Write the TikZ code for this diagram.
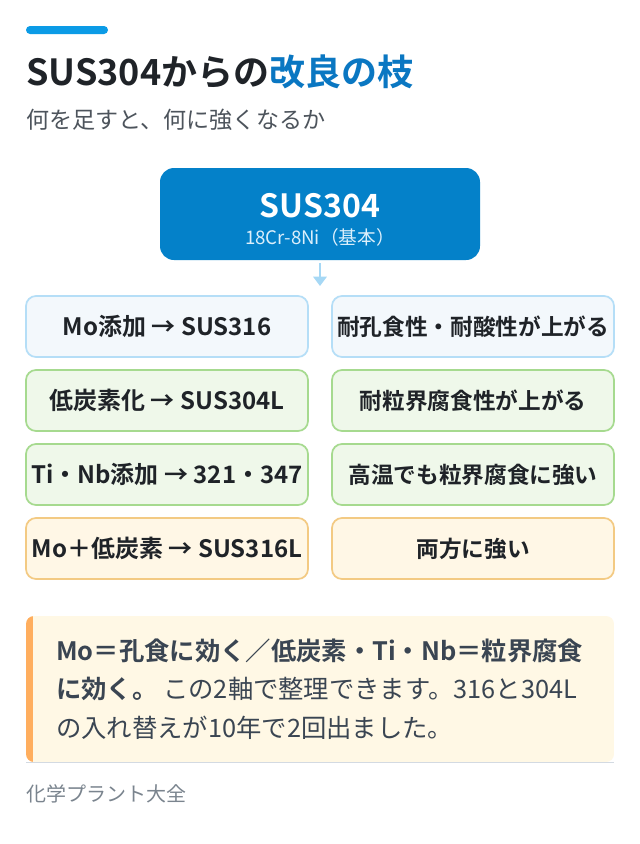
\documentclass[tikz,border=0pt]{standalone}
\usepackage{fontspec}
\setmainfont{Noto Sans CJK JP}[BoldFont={Noto Sans CJK JP Bold}]
\usetikzlibrary{arrows.meta,positioning}

\definecolor{accent}{HTML}{0B9BE6}
\definecolor{ink}{HTML}{1F2328}
\definecolor{titleblue}{HTML}{0A77C2}
\definecolor{subgrey}{HTML}{4D545C}
\definecolor{rootfill}{HTML}{0481C9}
\definecolor{rootsub}{HTML}{DCEFFB}
\definecolor{flowblue}{HTML}{A6D8F5}
\definecolor{bluefill}{HTML}{F3F8FC}
\definecolor{blueline}{HTML}{B5DEF7}
\definecolor{greenfill}{HTML}{EFF8EA}
\definecolor{greenline}{HTML}{A6DA8F}
\definecolor{orangefill}{HTML}{FFF7E6}
\definecolor{orangeline}{HTML}{F3CA83}
\definecolor{notebg}{HTML}{FFF8E5}
\definecolor{notebar}{HTML}{FFAE5E}
\definecolor{noteink}{HTML}{3A4552}
\definecolor{noteline}{HTML}{D3DAE2}
\definecolor{footgrey}{HTML}{7A848E}

\tikzset{
  rootbox/.style={fill=rootfill, rounded corners=10.5pt, minimum width=240pt, minimum height=69pt},
  cell/.style={draw, rounded corners=7.5pt, line width=1.3pt, minimum width=211.5pt,
    minimum height=45.75pt, inner sep=0pt, text=ink, font=\fontsize{17}{20}\selectfont\bfseries},
  grade/.style={font=\fontsize{18}{20}\selectfont\bfseries},
  rowblue/.style={fill=bluefill, draw=blueline},
  rowgreen/.style={fill=greenfill, draw=greenline},
  roworange/.style={fill=orangefill, draw=orangeline},
  flow/.style={draw=flowblue, line width=1.6pt, -{Triangle[width=10pt,length=7pt]}},
  notetext/.style={anchor=base west, inner sep=0pt, text=noteink, font=\fontsize{19}{22}\selectfont},
}

\begin{document}
\begin{tikzpicture}[x=0.75pt, y=-0.75pt, node distance=8.45pt and 16.7pt]
  \useasboundingbox[fill=white] (0,0) rectangle (640,844);
  % accent bar and heading:
  \fill[accent, rounded corners=3pt] (26,26) rectangle (108,34);
  \node[anchor=base west, inner sep=0pt, text=ink, font=\fontsize{27}{30}\selectfont\bfseries]
    (title) at (26,85) {SUS304からの\textcolor{titleblue}{改良の枝}};
  \node[anchor=base west, inner sep=0pt, text=subgrey, font=\fontsize{17.3}{20}\selectfont]
    (subtitle) at (26,128) {何を足すと、何に強くなるか};
  % base grade:
  \node[rootbox] (sus) at (320,214) {};
  \node[anchor=base, inner sep=0pt, text=white, font=\fontsize{24}{28}\selectfont\bfseries]
    (susname) at (320,217) {SUS304};
  \node[anchor=base, inner sep=0pt, text=rootsub, font=\fontsize{14}{16}\selectfont]
    (suscomp) at (320,244) {18Cr-8Ni（基本）};
  \coordinate (branch) at (320,286);
  \draw[flow] ([yshift=-2.25pt]sus.south) -- (branch);
  % modification -> effect:
  \node[cell, grade, rowblue] (mo) at (167,326.5) {Mo添加 → SUS316};
  \node[cell, rowblue, right=of mo] (moeff) {耐孔食性・耐酸性が上がる};
  \node[cell, grade, rowgreen, below=of mo] (lc) {低炭素化 → SUS304L};
  \node[cell, rowgreen, right=of lc] (lceff) {耐粒界腐食性が上がる};
  \node[cell, grade, rowgreen, below=of lc] (tinb) {Ti・Nb添加 → 321・347};
  \node[cell, rowgreen, right=of tinb] (tinbeff) {高温でも粒界腐食に強い};
  \node[cell, grade, roworange, below=of tinb] (molc) {Mo＋低炭素 → SUS316L};
  \node[cell, roworange, right=of molc] (molceff) {両方に強い};
  % note box:
  \begin{scope}
    \clip[rounded corners=6pt] (26,616) rectangle (614,762);
    \fill[notebg] (26,616) rectangle (614,762);
    \fill[notebar] (26,616) rectangle (32.5,762);
  \end{scope}
  \draw[noteline, line width=0.9pt] (26,762.5) -- (614,762.5);
  \node[notetext] (note1) at (56,660) {\textbf{Mo＝孔食に効く／低炭素・Ti・Nb＝粒界腐食}};
  \node[notetext] (note2) at (56,698.5) {\textbf{に効く。} この2軸で整理できます。316と304L};
  \node[notetext] (note3) at (56,737) {の入れ替えが10年で2回出ました。};
  % source:
  \node[anchor=base west, inner sep=0pt, text=footgrey, font=\fontsize{15}{18}\selectfont]
    (source) at (26,801) {化学プラント大全};
\end{tikzpicture}
\end{document}
